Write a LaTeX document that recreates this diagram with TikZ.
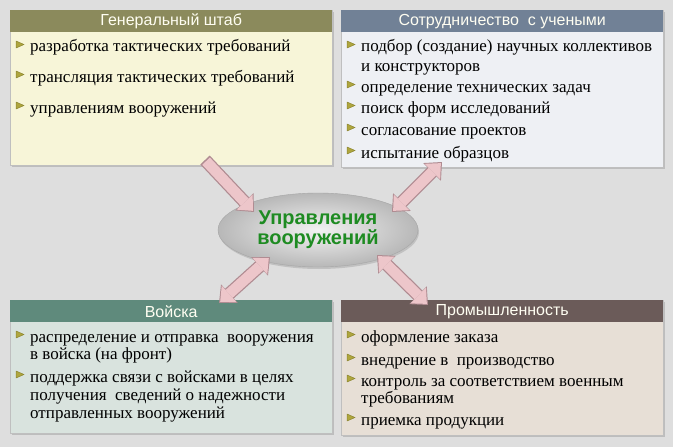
\documentclass[tikz,border=0pt]{standalone}
\usepackage{fontspec}
\setmainfont{Liberation Serif}
\newfontfamily\hdrfont{Liberation Sans}
\usetikzlibrary{arrows.meta,shapes.geometric,shadows}
\definecolor{bgc}{HTML}{DEDEDE}
\definecolor{gsH}{HTML}{8B8A5C}
\definecolor{gsB}{HTML}{F7F5D8}
\definecolor{scH}{HTML}{718196}
\definecolor{scB}{HTML}{EEF0F4}
\definecolor{trH}{HTML}{5F8A7C}
\definecolor{trB}{HTML}{D9E3DE}
\definecolor{inH}{HTML}{6B5B59}
\definecolor{inB}{HTML}{E7DFD6}
\definecolor{bulc}{HTML}{AFA63E}
\definecolor{bulE}{HTML}{8C8630}
\definecolor{greenT}{HTML}{1E8B22}
\definecolor{arrF}{HTML}{EDC6CA}
\definecolor{arrE}{HTML}{B08C92}
\begin{document}
\begin{tikzpicture}[x=1pt,y=-1pt,
  bodybox/.style={rectangle, draw=black!25, line width=0.4pt, inner sep=0pt, anchor=north west,
    minimum width=322pt, drop shadow={shadow xshift=1.5pt, shadow yshift=-1.5pt, opacity=0.35}},
  hdr/.style={rectangle, inner sep=0pt, anchor=north west, minimum width=322pt, minimum height=22pt,
    text=white!95!yellow, font=\hdrfont\fontsize{16}{18}\selectfont},
  item/.style={anchor=base west, inner sep=0pt, font=\fontsize{17}{20}\selectfont},
  bul/.pic={\filldraw[fill=bulc, draw=bulE, line width=0.5pt, line join=round]
      (-14,-11) -- (-6,-7.5) -- (-14,-4) -- cycle;},
  outtip/.tip={Triangle[width=25pt,length=14pt,line width=0pt]},
  intip/.tip={Triangle[width=22pt,length=12pt,line width=0pt]},
  arrout/.style={line width=13pt, draw=arrE, fill=arrE},
  arrin/.style={line width=10.5pt, draw=arrF, fill=arrF, shorten >=1.6pt, shorten <=1.6pt},
  hub/.style={ellipse, minimum width=200pt, minimum height=74pt, inner sep=0pt, draw=black!35,
    inner color=white!95!black, outer color=black!28,
    drop shadow={shadow xshift=1pt, shadow yshift=-2pt, opacity=0.3},
    align=center, text=greenT, font=\hdrfont\bfseries\fontsize{20}{20}\selectfont}]
\useasboundingbox (0,0) rectangle (673,447);
\fill[bgc] (0,0) rectangle (673,447);

% Генеральный штаб
\node[bodybox, fill=gsB, minimum height=155pt] (gs) at (10,10) {};
\node[hdr, fill=gsH] (gsh) at (10,10) {Генеральный штаб};
\node[item] (gs1) at (30,52) {разработка тактических требований};
\node[item] (gs2) at (30,82) {трансляция тактических требований};
\node[item] (gs3) at (30,113) {управлениям вооружений};
\pic at (gs1.base west) {bul};
\pic at (gs2.base west) {bul};
\pic at (gs3.base west) {bul};

% Сотрудничество с учеными
\node[bodybox, fill=scB, minimum height=157pt] (sc) at (341,10) {};
\node[hdr, fill=scH] (sch) at (341,10) {Сотрудничество\ \ с учеными};
\node[item] (sc1) at (361,52) {подбор (создание) научных коллективов};
\node[item] (sc1b) at (361,71) {и конструкторов};
\node[item] (sc2) at (361,92) {определение технических задач};
\node[item] (sc3) at (361,113) {поиск форм исследований};
\node[item] (sc4) at (361,135) {согласование проектов};
\node[item] (sc5) at (361,158) {испытание образцов};
\foreach \n in {sc1,sc2,sc3,sc4,sc5} \pic at (\n.base west) {bul};

% Войска
\node[bodybox, fill=trB, minimum height=133pt] (tr) at (10,300) {};
\node[hdr, fill=trH] (trh) at (10,300) {Войска};
\node[item] (tr1) at (30,342) {распределение и отправка\ \ вооружения};
\node[item] (tr1b) at (30,359) {в войска (на фронт)};
\node[item] (tr2) at (30,382) {поддержка связи с войсками в целях};
\node[item] (tr2b) at (30,400) {получения\ \ сведений о надежности};
\node[item] (tr2c) at (30,418) {отправленных вооружений};
\foreach \n in {tr1,tr2} \pic at (\n.base west) {bul};

% Промышленность
\node[bodybox, fill=inB, minimum height=135pt] (in) at (341,300) {};
\node[hdr, fill=inH] (inh) at (341,300) {Промышленность};
\node[item] (in1) at (361,342) {оформление заказа};
\node[item] (in2) at (361,365) {внедрение в\ \ производство};
\node[item] (in3) at (361,386) {контроль за соответствием военным};
\node[item] (in3b) at (361,403) {требованиям};
\node[item] (in4) at (361,425) {приемка продукции};
\foreach \n in {in1,in2,in3,in4} \pic at (\n.base west) {bul};

% центр
\node[hub] (uv) at (318,230) {Управления\\вооружений};

% стрелки
\coordinate (gsA) at (205,160);
\coordinate (uvA) at (254,212);
\coordinate (scA) at (442,162);
\coordinate (uvB) at (392,212);
\coordinate (uvC) at (270,257);
\coordinate (trA) at (219,303);
\coordinate (uvD) at (377,255);
\coordinate (inA) at (428,305);

\draw[arrout, arrows={-outtip}] (gsA) -- (uvA);
\draw[arrin, arrows={-intip}] (gsA) -- (uvA);
\draw[arrout, arrows={outtip-outtip}] (scA) -- (uvB);
\draw[arrin, arrows={intip-intip}] (scA) -- (uvB);
\draw[arrout, arrows={outtip-outtip}] (uvC) -- (trA);
\draw[arrin, arrows={intip-intip}] (uvC) -- (trA);
\draw[arrout, arrows={outtip-outtip}] (uvD) -- (inA);
\draw[arrin, arrows={intip-intip}] (uvD) -- (inA);
\end{tikzpicture}
\end{document}
